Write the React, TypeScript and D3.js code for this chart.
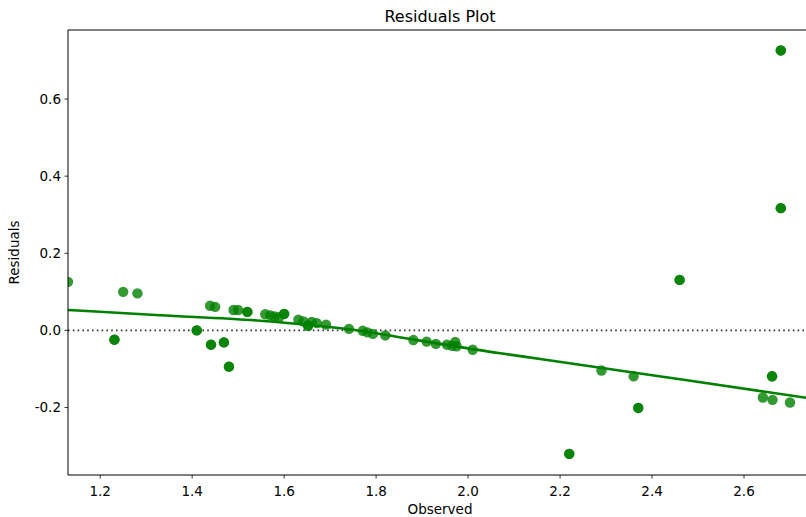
import React from "react";
import * as d3 from "d3";

const observed: number[] = [
  1.13, 1.231, 1.25, 1.281, 1.41, 1.439, 1.45, 1.441, 1.469, 1.48, 1.49, 1.5, 1.52,
  1.559, 1.57, 1.579, 1.589, 1.6, 1.631, 1.642, 1.652, 1.66, 1.671, 1.691,
  1.741, 1.771, 1.781, 1.793, 1.82, 1.881, 1.91, 1.93, 1.954, 1.965, 1.972, 1.975, 2.01,
  2.22, 2.29, 2.36, 2.37, 2.46, 2.641, 2.661, 2.662, 2.7, 2.68, 2.68,
  // repeated observations (drawn darker where they overlap)
  1.231, 1.41, 1.441, 1.469, 1.48, 1.52, 1.6, 1.652, 2.22, 2.37, 2.46, 2.661, 2.68, 2.68,
];
const residuals: number[] = [
  0.126, -0.024, 0.1, 0.096, 0.0, 0.064, 0.061, -0.037, -0.031, -0.094, 0.053, 0.053, 0.048,
  0.042, 0.039, 0.036, 0.034, 0.043, 0.028, 0.023, 0.012, 0.022, 0.019, 0.015,
  0.004, -0.001, -0.005, -0.009, -0.013, -0.025, -0.029, -0.035, -0.037, -0.04, -0.03, -0.041, -0.05,
  -0.32, -0.104, -0.119, -0.201, 0.131, -0.174, -0.119, -0.18, -0.187, 0.726, 0.317,
  -0.024, 0.0, -0.037, -0.031, -0.094, 0.048, 0.043, 0.012, -0.32, -0.201, 0.131, -0.119, 0.726, 0.317,
];
const xTicks: number[] = [1.2, 1.4, 1.6, 1.8, 2.0, 2.2, 2.4, 2.6];
const yTicks: number[] = [-0.2, 0.0, 0.2, 0.4, 0.6];
// smoothed trend curve
const trendX: number[] = [1.13, 1.33, 1.548, 1.741, 1.896, 2.07, 2.157, 2.374, 2.735, 2.748];
const trendY: number[] = [0.053, 0.0395, 0.0252, 0.0029, -0.0264, -0.0593, -0.0741, -0.1117, -0.1745, -0.1768];

const W = 806;
const H = 517;
const left = 68;
const right = 812;
const top = 30;
const bottom = 475;
const font = "'DejaVu Sans', sans-serif";

export default function App() {
  const x = d3.scaleLinear().domain([1.13, 1.2 + (right - 100) / 460]).range([left, right]);
  const y = d3.scaleLinear().domain([-0.3749, 0.779]).range([bottom, top]);
  const lineGen = d3
    .line<number>()
    .x((d) => x(trendX[d]))
    .y((d) => y(trendY[d]))
    .curve(d3.curveMonotoneX);
  const pts = observed.map((o, i) => ({ o, r: residuals[i] }));
  return (
    <svg width={W} height={H} style={{ position: "absolute", left: 0, top: 0, background: "#fff" }}>
      <defs>
        <clipPath id="plotArea">
          <rect x={left} y={top} width={right - left} height={bottom - top} />
        </clipPath>
      </defs>
      <rect x={0} y={0} width={W} height={H} fill="#fff" />
      <g clipPath="url(#plotArea)">
        <line x1={left} x2={right} y1={y(0)} y2={y(0)} stroke="#333" strokeWidth={1.6} strokeDasharray="1.6,3.2" />
        {pts.map((p, i) => (
          <circle key={i} cx={x(p.o)} cy={y(p.r)} r={5.2} fill="#008000" fillOpacity={0.8} />
        ))}
        <path d={lineGen(trendX.map((_, i) => i)) || ""} fill="none" stroke="#008000" strokeWidth={2.6} />
      </g>
      {/* spines */}
      <line x1={left} x2={left} y1={top} y2={bottom} stroke="#000" strokeWidth={1} />
      <line x1={left} x2={right} y1={bottom} y2={bottom} stroke="#000" strokeWidth={1} />
      <line x1={left} x2={right} y1={top} y2={top} stroke="#000" strokeWidth={1} />
      {/* x ticks */}
      {xTicks.map((t) => (
        <g key={"x" + t}>
          <line x1={x(t)} x2={x(t)} y1={bottom} y2={bottom + 3.5} stroke="#000" strokeWidth={0.8} />
          <text x={x(t)} y={496} textAnchor="middle" fontFamily={font} fontSize={13.5} fill="#000">
            {t.toFixed(1)}
          </text>
        </g>
      ))}
      {/* y ticks */}
      {yTicks.map((t) => (
        <g key={"y" + t}>
          <line x1={left - 3.5} x2={left} y1={y(t)} y2={y(t)} stroke="#000" strokeWidth={0.8} />
          <text x={left - 7} y={y(t)} dy="0.36em" textAnchor="end" fontFamily={font} fontSize={13.5} fill="#000">
            {t.toFixed(1)}
          </text>
        </g>
      ))}
      <text x={(left + right) / 2} y={22} textAnchor="middle" fontFamily={font} fontSize={16} fill="#000">
        Residuals Plot
      </text>
      <text x={(left + right) / 2} y={514} textAnchor="middle" fontFamily={font} fontSize={13.5} fill="#000">
        Observed
      </text>
      <text
        transform={`translate(19,${(top + bottom) / 2}) rotate(-90)`}
        textAnchor="middle"
        fontFamily={font}
        fontSize={13.5}
        fill="#000"
      >
        Residuals
      </text>
    </svg>
  );
}
